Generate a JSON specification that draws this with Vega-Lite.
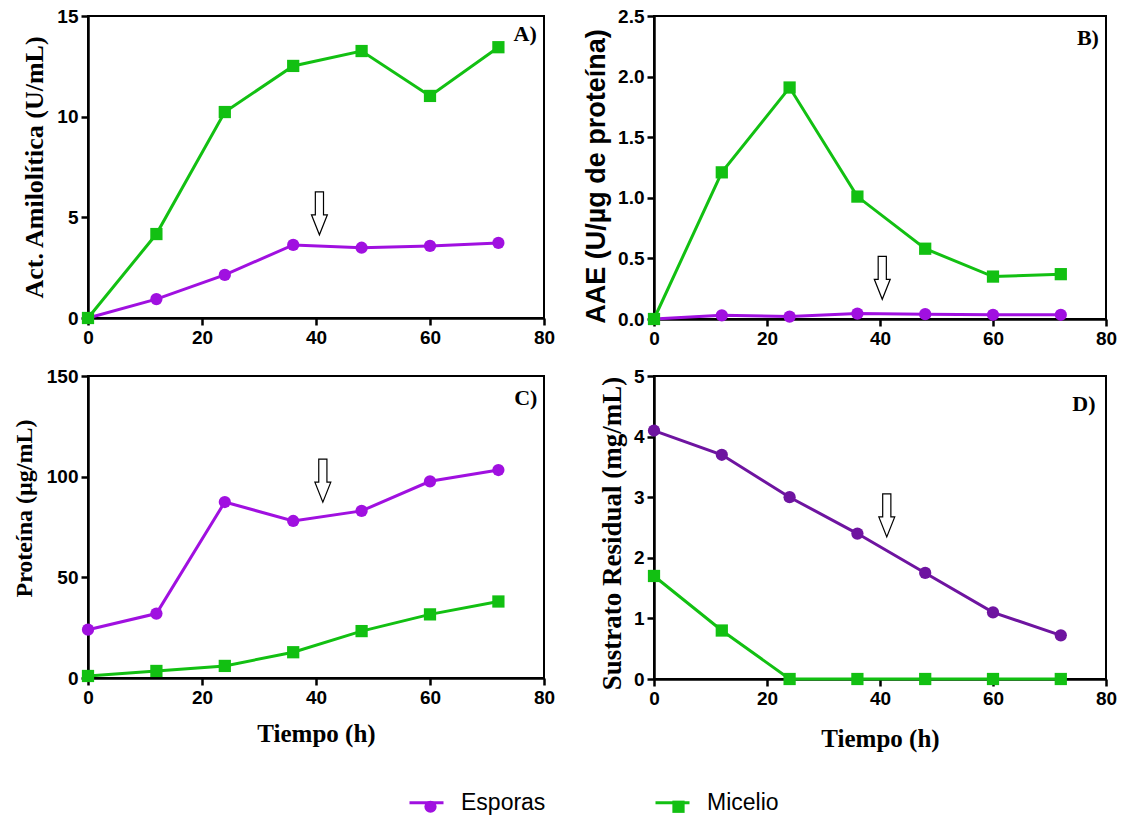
{
  "$schema": "https://vega.github.io/schema/vega-lite/v6.json",
  "background": "white",
  "padding": {"left": 11, "top": 6, "right": 10, "bottom": 10},
  "bounds": "flush",
  "columns": 2,
  "spacing": {"row": 57, "column": 110},
  "datasets": {
    "obs": [
      {"p": "A", "s": "Esporas", "t": 0, "v": 0},
      {"p": "A", "s": "Esporas", "t": 12, "v": 0.94},
      {"p": "A", "s": "Esporas", "t": 24, "v": 2.14},
      {"p": "A", "s": "Esporas", "t": 36, "v": 3.63},
      {"p": "A", "s": "Esporas", "t": 48, "v": 3.49},
      {"p": "A", "s": "Esporas", "t": 60, "v": 3.58},
      {"p": "A", "s": "Esporas", "t": 72, "v": 3.73},
      {"p": "A", "s": "Micelio", "t": 0, "v": 0},
      {"p": "A", "s": "Micelio", "t": 12, "v": 4.17},
      {"p": "A", "s": "Micelio", "t": 24, "v": 10.23},
      {"p": "A", "s": "Micelio", "t": 36, "v": 12.52},
      {"p": "A", "s": "Micelio", "t": 48, "v": 13.26},
      {"p": "A", "s": "Micelio", "t": 60, "v": 11.03},
      {"p": "A", "s": "Micelio", "t": 72, "v": 13.45},
      {"p": "B", "s": "Esporas", "t": 0, "v": 0},
      {"p": "B", "s": "Esporas", "t": 12, "v": 0.03},
      {"p": "B", "s": "Esporas", "t": 24, "v": 0.02},
      {"p": "B", "s": "Esporas", "t": 36, "v": 0.045},
      {"p": "B", "s": "Esporas", "t": 48, "v": 0.04},
      {"p": "B", "s": "Esporas", "t": 60, "v": 0.035},
      {"p": "B", "s": "Esporas", "t": 72, "v": 0.035},
      {"p": "B", "s": "Micelio", "t": 0, "v": 0},
      {"p": "B", "s": "Micelio", "t": 12, "v": 1.21},
      {"p": "B", "s": "Micelio", "t": 24, "v": 1.91},
      {"p": "B", "s": "Micelio", "t": 36, "v": 1.01},
      {"p": "B", "s": "Micelio", "t": 48, "v": 0.58},
      {"p": "B", "s": "Micelio", "t": 60, "v": 0.35},
      {"p": "B", "s": "Micelio", "t": 72, "v": 0.37},
      {"p": "C", "s": "Esporas", "t": 0, "v": 24},
      {"p": "C", "s": "Esporas", "t": 12, "v": 32},
      {"p": "C", "s": "Esporas", "t": 24, "v": 87.4},
      {"p": "C", "s": "Esporas", "t": 36, "v": 78},
      {"p": "C", "s": "Esporas", "t": 48, "v": 83},
      {"p": "C", "s": "Esporas", "t": 60, "v": 97.7},
      {"p": "C", "s": "Esporas", "t": 72, "v": 103.3},
      {"p": "C", "s": "Micelio", "t": 0, "v": 1},
      {"p": "C", "s": "Micelio", "t": 12, "v": 3.5},
      {"p": "C", "s": "Micelio", "t": 24, "v": 6},
      {"p": "C", "s": "Micelio", "t": 36, "v": 12.8},
      {"p": "C", "s": "Micelio", "t": 48, "v": 23.3},
      {"p": "C", "s": "Micelio", "t": 60, "v": 31.6},
      {"p": "C", "s": "Micelio", "t": 72, "v": 38},
      {"p": "D", "s": "Esporas", "t": 0, "v": 4.1},
      {"p": "D", "s": "Esporas", "t": 12, "v": 3.7},
      {"p": "D", "s": "Esporas", "t": 24, "v": 3.0},
      {"p": "D", "s": "Esporas", "t": 36, "v": 2.4},
      {"p": "D", "s": "Esporas", "t": 48, "v": 1.75},
      {"p": "D", "s": "Esporas", "t": 60, "v": 1.1},
      {"p": "D", "s": "Esporas", "t": 72, "v": 0.72},
      {"p": "D", "s": "Micelio", "t": 0, "v": 1.7},
      {"p": "D", "s": "Micelio", "t": 12, "v": 0.8},
      {"p": "D", "s": "Micelio", "t": 24, "v": 0},
      {"p": "D", "s": "Micelio", "t": 36, "v": 0},
      {"p": "D", "s": "Micelio", "t": 48, "v": 0},
      {"p": "D", "s": "Micelio", "t": 60, "v": 0},
      {"p": "D", "s": "Micelio", "t": 72, "v": 0}
    ],
    "arr": [
      {"p": "A", "t": 40.6, "v": 5.2},
      {"p": "B", "t": 40.4, "v": 0.34},
      {"p": "C", "t": 41.2, "v": 98},
      {"p": "D", "t": 41.2, "v": 2.7}
    ],
    "lab": [
      {"p": "A", "t": 76.7, "v": 14.1, "txt": "A)"},
      {"p": "B", "t": 76.8, "v": 2.32, "txt": "B)"},
      {"p": "C", "t": 76.8, "v": 139, "txt": "C)"},
      {"p": "D", "t": 76.1, "v": 4.54, "txt": "D)"}
    ]
  },
  "config": {
    "font": "Liberation Sans",
    "view": {"stroke": "black", "strokeWidth": 2},
    "axis": {
      "domainColor": "black", "domainWidth": 2.5,
      "tickColor": "black", "tickWidth": 2.5, "tickSize": 7,
      "labelFont": "Liberation Sans", "labelFontWeight": "bold", "labelFontSize": 19, "labelColor": "black",
      "labelFlush": false, "labelOverlap": false, "labelPadding": 3,
      "grid": false,
      "titleFont": "Liberation Serif", "titleFontWeight": "bold", "titleFontSize": 24, "titleColor": "black"
    }
  },
  "concat": [
    {
      "width": 456, "height": 302,
      "layer": [
        {
          "data": {"name": "obs"}, "transform": [{"filter": "datum.p === 'A'"}],
          "mark": {"type": "line", "strokeWidth": 3},
          "encoding": {
            "x": {"field": "t", "type": "quantitative", "scale": {"domain": [0, 80], "nice": false}, "axis": {"values": [0, 20, 40, 60, 80], "format": "d", "title": null}},
            "y": {"field": "v", "type": "quantitative", "scale": {"domain": [0, 15], "nice": false}, "axis": {"values": [0, 5, 10, 15], "format": "d", "title": "Act. Amilolítica (U/mL)", "titleFontSize": 26, "titlePadding": 9}},
            "stroke": {"field": "s", "type": "nominal", "scale": {"domain": ["Esporas", "Micelio"], "range": ["#a010e0", "#12c012"]},
              "legend": {"orient": "none", "legendX": 320, "legendY": 768, "direction": "horizontal", "title": null, "columnPadding": 103, "labelFont": "Liberation Sans", "labelFontSize": 23, "labelFontWeight": "normal", "labelColor": "black", "labelOffset": 16, "symbolType": "stroke", "symbolSize": 1156, "symbolStrokeWidth": 3}}
          }
        },
        {
          "data": {"name": "obs"}, "transform": [{"filter": "datum.p === 'A'"}],
          "mark": {"type": "point", "filled": true, "opacity": 1, "size": 150},
          "encoding": {
            "x": {"field": "t", "type": "quantitative"},
            "y": {"field": "v", "type": "quantitative"},
            "color": {"field": "s", "type": "nominal", "scale": {"domain": ["Micelio", "Esporas"], "range": ["#12c012", "#a010e0"]},
              "legend": {"orient": "none", "legendX": 331, "legendY": 779, "direction": "horizontal", "title": null, "values": ["Esporas", "Micelio"], "columnPadding": 209, "labelExpr": "''", "labelFontSize": 23, "labelOffset": 16, "symbolSize": 150, "symbolOpacity": 1}},
            "shape": {"field": "s", "type": "nominal", "scale": {"domain": ["Micelio", "Esporas"], "range": ["square", "circle"]}}
          }
        },
        {
          "data": {"name": "arr"}, "transform": [{"filter": "datum.p === 'A'"}],
          "mark": {"type": "point", "shape": "M-0.19,-1H0.19V0.07H0.37L0,1L-0.37,0.07H-0.19Z", "size": 1849, "filled": true, "fill": "white", "stroke": "black", "strokeWidth": 1.2, "opacity": 1},
          "encoding": {"x": {"field": "t", "type": "quantitative"}, "y": {"field": "v", "type": "quantitative"}}
        },
        {
          "data": {"name": "lab"}, "transform": [{"filter": "datum.p === 'A'"}],
          "mark": {"type": "text", "font": "Liberation Serif", "fontWeight": "bold", "fontSize": 22, "fill": "black"},
          "encoding": {"x": {"field": "t", "type": "quantitative"}, "y": {"field": "v", "type": "quantitative"}, "text": {"field": "txt"}}
        }
      ]
    },
    {
      "width": 452, "height": 303,
      "layer": [
        {
          "data": {"name": "obs"}, "transform": [{"filter": "datum.p === 'B'"}],
          "mark": {"type": "line", "strokeWidth": 3},
          "encoding": {
            "x": {"field": "t", "type": "quantitative", "scale": {"domain": [0, 80], "nice": false}, "axis": {"values": [0, 20, 40, 60, 80], "format": "d", "title": null}},
            "y": {"field": "v", "type": "quantitative", "scale": {"domain": [0, 2.5], "nice": false}, "axis": {"values": [0, 0.5, 1, 1.5, 2, 2.5], "format": ".1f", "title": "AAE (U/µg de proteína)", "titleFont": "Liberation Sans", "titleFontSize": 27, "titlePadding": 7, "titleY": 160}},
            "stroke": {"field": "s", "type": "nominal"}
          }
        },
        {
          "data": {"name": "obs"}, "transform": [{"filter": "datum.p === 'B'"}],
          "mark": {"type": "point", "filled": true, "opacity": 1, "size": 150},
          "encoding": {
            "x": {"field": "t", "type": "quantitative"},
            "y": {"field": "v", "type": "quantitative"},
            "color": {"field": "s", "type": "nominal"},
            "shape": {"field": "s", "type": "nominal"}
          }
        },
        {
          "data": {"name": "arr"}, "transform": [{"filter": "datum.p === 'B'"}],
          "mark": {"type": "point", "shape": "M-0.19,-1H0.19V0.07H0.37L0,1L-0.37,0.07H-0.19Z", "size": 1849, "filled": true, "fill": "white", "stroke": "black", "strokeWidth": 1.2, "opacity": 1},
          "encoding": {"x": {"field": "t", "type": "quantitative"}, "y": {"field": "v", "type": "quantitative"}}
        },
        {
          "data": {"name": "lab"}, "transform": [{"filter": "datum.p === 'B'"}],
          "mark": {"type": "text", "font": "Liberation Serif", "fontWeight": "bold", "fontSize": 22, "fill": "black"},
          "encoding": {"x": {"field": "t", "type": "quantitative"}, "y": {"field": "v", "type": "quantitative"}, "text": {"field": "txt"}}
        }
      ]
    },
    {
      "width": 456, "height": 302,
      "layer": [
        {
          "data": {"name": "obs"}, "transform": [{"filter": "datum.p === 'C'"}],
          "mark": {"type": "line", "strokeWidth": 3},
          "encoding": {
            "x": {"field": "t", "type": "quantitative", "scale": {"domain": [0, 80], "nice": false}, "axis": {"values": [0, 20, 40, 60, 80], "format": "d", "title": "Tiempo (h)", "titlePadding": 14, "titleFontSize": 25}},
            "y": {"field": "v", "type": "quantitative", "scale": {"domain": [0, 150], "nice": false}, "axis": {"values": [0, 50, 100, 150], "format": "d", "title": "Proteína (µg/mL)", "titlePadding": 10, "titleY": 132}},
            "stroke": {"field": "s", "type": "nominal"}
          }
        },
        {
          "data": {"name": "obs"}, "transform": [{"filter": "datum.p === 'C'"}],
          "mark": {"type": "point", "filled": true, "opacity": 1, "size": 150},
          "encoding": {
            "x": {"field": "t", "type": "quantitative"},
            "y": {"field": "v", "type": "quantitative"},
            "color": {"field": "s", "type": "nominal"},
            "shape": {"field": "s", "type": "nominal"}
          }
        },
        {
          "data": {"name": "arr"}, "transform": [{"filter": "datum.p === 'C'"}],
          "mark": {"type": "point", "shape": "M-0.19,-1H0.19V0.07H0.37L0,1L-0.37,0.07H-0.19Z", "size": 1849, "filled": true, "fill": "white", "stroke": "black", "strokeWidth": 1.2, "opacity": 1},
          "encoding": {"x": {"field": "t", "type": "quantitative"}, "y": {"field": "v", "type": "quantitative"}}
        },
        {
          "data": {"name": "lab"}, "transform": [{"filter": "datum.p === 'C'"}],
          "mark": {"type": "text", "font": "Liberation Serif", "fontWeight": "bold", "fontSize": 22, "fill": "black"},
          "encoding": {"x": {"field": "t", "type": "quantitative"}, "y": {"field": "v", "type": "quantitative"}, "text": {"field": "txt"}}
        }
      ]
    },
    {
      "width": 452, "height": 303,
      "layer": [
        {
          "data": {"name": "obs"}, "transform": [{"filter": "datum.p === 'D'"}],
          "mark": {"type": "line", "strokeWidth": 3},
          "encoding": {
            "x": {"field": "t", "type": "quantitative", "scale": {"domain": [0, 80], "nice": false}, "axis": {"values": [0, 20, 40, 60, 80], "format": "d", "title": "Tiempo (h)", "titlePadding": 18, "titleFontSize": 25}},
            "y": {"field": "v", "type": "quantitative", "scale": {"domain": [0, 5], "nice": false}, "axis": {"values": [0, 1, 2, 3, 4, 5], "format": "d", "title": "Sustrato Residual (mg/mL)", "titleFontSize": 27, "titlePadding": 7, "titleY": 157}},
            "detail": {"field": "s", "type": "nominal"},
            "stroke": {"condition": {"test": "datum.s === 'Esporas'", "value": "#6e14a0"}, "value": "#12c012"}
          }
        },
        {
          "data": {"name": "obs"}, "transform": [{"filter": "datum.p === 'D'"}],
          "mark": {"type": "point", "filled": true, "opacity": 1, "size": 150},
          "encoding": {
            "x": {"field": "t", "type": "quantitative"},
            "y": {"field": "v", "type": "quantitative"},
            "color": {"condition": {"test": "datum.s === 'Esporas'", "value": "#6e14a0"}, "value": "#12c012"},
            "shape": {"field": "s", "type": "nominal"}
          }
        },
        {
          "data": {"name": "arr"}, "transform": [{"filter": "datum.p === 'D'"}],
          "mark": {"type": "point", "shape": "M-0.19,-1H0.19V0.07H0.37L0,1L-0.37,0.07H-0.19Z", "size": 1849, "filled": true, "fill": "white", "stroke": "black", "strokeWidth": 1.2, "opacity": 1},
          "encoding": {"x": {"field": "t", "type": "quantitative"}, "y": {"field": "v", "type": "quantitative"}}
        },
        {
          "data": {"name": "lab"}, "transform": [{"filter": "datum.p === 'D'"}],
          "mark": {"type": "text", "font": "Liberation Serif", "fontWeight": "bold", "fontSize": 22, "fill": "black"},
          "encoding": {"x": {"field": "t", "type": "quantitative"}, "y": {"field": "v", "type": "quantitative"}, "text": {"field": "txt"}}
        }
      ]
    }
  ]
}
